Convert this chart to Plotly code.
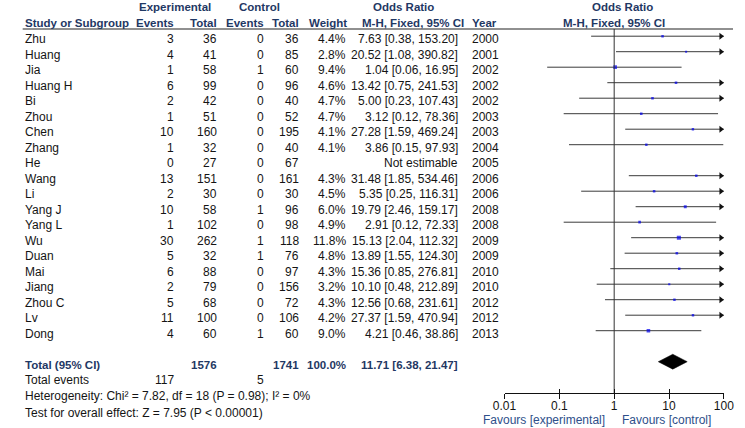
import math
import plotly.graph_objects as go

# ---------------- data ----------------
studies = ["Zhu", "Huang", "Jia", "Huang H", "Bi", "Zhou", "Chen", "Zhang", "He", "Wang",
           "Li", "Yang J", "Yang L", "Wu", "Duan", "Mai", "Jiang", "Zhou C", "Lv", "Dong"]
exp_events = [3, 4, 1, 6, 2, 1, 10, 1, 0, 13, 2, 10, 1, 30, 5, 6, 2, 5, 11, 4]
exp_total = [36, 41, 58, 99, 42, 51, 160, 32, 27, 151, 30, 58, 102, 262, 32, 88, 79, 68, 100, 60]
ctl_events = [0, 0, 1, 0, 0, 0, 0, 0, 0, 0, 0, 1, 0, 1, 1, 0, 0, 0, 0, 1]
ctl_total = [36, 85, 60, 96, 40, 52, 195, 40, 67, 161, 30, 96, 98, 118, 76, 97, 156, 72, 106, 60]
weights = [4.4, 2.8, 9.4, 4.6, 4.7, 4.7, 4.1, 4.1, None, 4.3, 4.5, 6.0, 4.9, 11.8, 4.8, 4.3, 3.2, 4.3, 4.2, 9.0]
or_est = [7.63, 20.52, 1.04, 13.42, 5.00, 3.12, 27.28, 3.86, None, 31.48, 5.35, 19.79, 2.91, 15.13,
          13.89, 15.36, 10.10, 12.56, 27.37, 4.21]
ci_lo = [0.38, 1.08, 0.06, 0.75, 0.23, 0.12, 1.59, 0.15, None, 1.85, 0.25, 2.46, 0.12, 2.04,
         1.55, 0.85, 0.48, 0.68, 1.59, 0.46]
ci_hi = [153.20, 390.82, 16.95, 241.53, 107.43, 78.36, 469.24, 97.93, None, 534.46, 116.31, 159.17,
         72.33, 112.32, 124.30, 276.81, 212.89, 231.61, 470.94, 38.86]
years = [2000, 2001, 2002, 2002, 2002, 2003, 2003, 2004, 2005, 2006, 2006, 2008, 2008, 2009, 2009,
         2010, 2010, 2012, 2012, 2013]

total_exp = 1576
total_ctl = 1741
total_weight = "100.0%"
total_or = 11.71
total_lo = 6.38
total_hi = 21.47
total_exp_events = 117
total_ctl_events = 5
heterogeneity = "Heterogeneity: Chi² = 7.82, df = 18 (P = 0.98); I² = 0%"
overall = "Test for overall effect: Z = 7.95 (P < 0.00001)"
tick_vals = [0.01, 0.1, 1, 10, 100]
tick_text = ["0.01", "0.1", "1", "10", "100"]

# ---------------- layout geometry ----------------
W, H = 745, 428
PITCH = 15.5
ROW0 = 36.2                      # pixel of first row's line centre
def px2row(p):
    return (p - ROW0) / PITCH
AXIS_PX = 393.3
HEAD_LINE_PX = 29
FX0, FX1 = 507.5, 733.5          # forest x domain in pixels
DEC_PX = (FX1 - FX0) / 4.0

FONT = "Liberation Sans, Arial, sans-serif"
NAVY = "#1F3864"
FAV = "#2E4F8A"
TXT = "#141414"

fig = go.Figure()

# CI lines
n = len(studies)
for i in range(n):
    if or_est[i] is None:
        continue
    hi = min(ci_hi[i], tick_vals[-1])
    fig.add_trace(go.Scatter(x=[ci_lo[i], hi], y=[i, i], mode="lines",
                             line=dict(color="#3a3a3a", width=1), hoverinfo="skip",
                             showlegend=False))

# arrowheads for truncated CIs
arr_x, arr_y = [], []
for i in range(n):
    if or_est[i] is not None and ci_hi[i] > tick_vals[-1]:
        arr_x.append(tick_vals[-1] / 10 ** (3.0 / DEC_PX))
        arr_y.append(i)
fig.add_trace(go.Scatter(x=arr_x, y=arr_y, mode="markers",
                         marker=dict(symbol="triangle-right", size=6, color="#111",
                                     line=dict(width=0)),
                         cliponaxis=False, hoverinfo="skip", showlegend=False))

# point estimates
px_, py_, ps_ = [], [], []
for i in range(n):
    if or_est[i] is None:
        continue
    px_.append(or_est[i]); py_.append(i); ps_.append(1.2 * math.sqrt(weights[i]))
fig.add_trace(go.Scatter(x=px_, y=py_, mode="markers",
                         marker=dict(symbol="square", size=ps_, color="#0000EE",
                                     line=dict(width=0)),
                         hoverinfo="skip", showlegend=False))

# null line
fig.add_trace(go.Scatter(x=[1, 1], y=[px2row(HEAD_LINE_PX), px2row(AXIS_PX)], mode="lines",
                         line=dict(color="#333", width=1), hoverinfo="skip", showlegend=False,
                         cliponaxis=False))

# total diamond
TROW = n + 1
h = 0.48
fig.add_trace(go.Scatter(x=[total_lo, total_or, total_hi, total_or, total_lo],
                         y=[TROW, TROW - h, TROW, TROW + h, TROW],
                         mode="lines", fill="toself", fillcolor="#000",
                         line=dict(color="#000", width=0.5), hoverinfo="skip", showlegend=False))

# dummy trace for inner ticks axis
fig.add_trace(go.Scatter(x=[1], y=[TROW], xaxis="x2", mode="markers",
                         marker=dict(opacity=0), hoverinfo="skip", showlegend=False))

# ---------------- text ----------------
ann = []
def T(text, xpx, row=None, ypx=None, anchor="left", bold=False, color=TXT, size=12, ysh=-3):
    d = dict(text=("<b>%s</b>" % text) if bold else text, x=xpx / W, xref="paper",
             xanchor=anchor, showarrow=False,
             font=dict(family=FONT, size=size, color=color))
    if row is not None:
        d.update(y=row, yref="y", yanchor="middle", yshift=ysh)
    else:
        d.update(y=1 - ypx / H, yref="paper", yanchor="middle")
    ann.append(d)

# columns (pixel positions)
C_STUDY, C_EE, C_ET, C_CE, C_CT, C_W, C_OR, C_YR = 11, 168.5, 213.5, 261.5, 297.5, 346, 461.5, 472

HB = 11.5
T("Experimental", 167.5, ypx=7, anchor="center", bold=True, color=NAVY, size=HB)
T("Control", 255.5, ypx=7, anchor="center", bold=True, color=NAVY, size=HB)
T("Odds Ratio", 403, ypx=7, anchor="center", bold=True, color=NAVY, size=HB)
T("Odds Ratio", 629, ypx=7, anchor="center", bold=True, color=NAVY, size=HB)
T("Study or Subgroup", C_STUDY, ypx=23.3, anchor="left", bold=True, color=NAVY, size=HB)
T("Events", C_EE, ypx=23.3, anchor="right", bold=True, color=NAVY, size=HB)
T("Total", C_ET, ypx=23.3, anchor="right", bold=True, color=NAVY, size=HB)
T("Events", C_CE, ypx=23.3, anchor="right", bold=True, color=NAVY, size=HB)
T("Total", C_CT, ypx=23.3, anchor="right", bold=True, color=NAVY, size=HB)
T("Weight", C_W + 1, ypx=23.3, anchor="right", bold=True, color=NAVY, size=HB)
T("M-H, Fixed, 95% CI", 413, ypx=23.3, anchor="center", bold=True, color=NAVY, size=HB)
T("Year", C_YR, ypx=23.3, anchor="left", bold=True, color=NAVY, size=HB)
T("M-H, Fixed, 95% CI", 620.5, ypx=23.3, anchor="center", bold=True, color=NAVY, size=HB)

for i in range(n):
    T(studies[i], C_STUDY, row=i)
    T(str(exp_events[i]), C_EE, row=i, anchor="right")
    T(str(exp_total[i]), C_ET, row=i, anchor="right")
    T(str(ctl_events[i]), C_CE, row=i, anchor="right")
    T(str(ctl_total[i]), C_CT, row=i, anchor="right")
    if weights[i] is not None:
        T("%.1f%%" % weights[i], C_W, row=i, anchor="right")
        T("%.2f [%.2f, %.2f]" % (or_est[i], ci_lo[i], ci_hi[i]), C_OR, row=i, anchor="right")
    else:
        T("Not estimable", C_OR, row=i, anchor="right")
    T(str(years[i]), C_YR, row=i)

T("Total (95% CI)", C_STUDY, row=TROW, bold=True, color=NAVY, size=HB)
T(str(total_exp), C_ET, row=TROW, anchor="right", bold=True, color=NAVY, size=HB)
T(str(total_ctl), C_CT, row=TROW, anchor="right", bold=True, color=NAVY, size=HB)
T(total_weight, C_W, row=TROW, anchor="right", bold=True, color=NAVY, size=HB)
T("%.2f [%.2f, %.2f]" % (total_or, total_lo, total_hi), C_OR, row=TROW, anchor="right",
  bold=True, color=NAVY, size=HB)
T("Total events", C_STUDY, row=TROW + 1)
T(str(total_exp_events), C_EE, row=TROW + 1, anchor="right")
T(str(total_ctl_events), C_CE, row=TROW + 1, anchor="right")
T(heterogeneity, C_STUDY, row=TROW + 2)
T(overall, C_STUDY, row=TROW + 3, ysh=-4.5)

T("Favours [experimental]", 613.5, ypx=419.5, anchor="right", color=FAV)
T("Favours [control]", 626.5, ypx=419.5, anchor="left", color=FAV)

fig.update_layout(
    width=W, height=H, margin=dict(l=0, r=0, t=0, b=0),
    paper_bgcolor="white", plot_bgcolor="rgba(0,0,0,0)",
    showlegend=False, annotations=ann,
    shapes=[dict(type="line", xref="paper", yref="paper", x0=11 / W, x1=743 / W,
                 y0=1 - HEAD_LINE_PX / H, y1=1 - HEAD_LINE_PX / H,
                 line=dict(color="#222", width=1.2))],
    xaxis=dict(type="log", range=[math.log10(tick_vals[0]), math.log10(tick_vals[-1])],
               domain=[FX0 / W, FX1 / W], anchor="free", position=1 - AXIS_PX / H,
               showline=True, linecolor="#111", linewidth=1, showgrid=False, zeroline=False,
               ticks="outside", ticklen=4.5, tickwidth=1, tickcolor="#111",
               tickvals=tick_vals, ticktext=tick_text, ticklabelstandoff=-3,
               tickfont=dict(family=FONT, size=12, color=TXT)),
    xaxis2=dict(type="log", range=[math.log10(tick_vals[0]), math.log10(tick_vals[-1])],
                overlaying="x", anchor="free", position=1 - AXIS_PX / H,
                showline=False, showgrid=False, zeroline=False,
                ticks="inside", ticklen=4.5, tickwidth=1, tickcolor="#111",
                tickvals=tick_vals, showticklabels=False),
    yaxis=dict(range=[px2row(H), px2row(0)], domain=[0, 1], visible=False,
               showgrid=False, zeroline=False),
)

fig.write_html("out.html", config={"displayModeBar": False},
               post_script="document.body.style.margin='0';document.body.style.overflow='hidden';")
